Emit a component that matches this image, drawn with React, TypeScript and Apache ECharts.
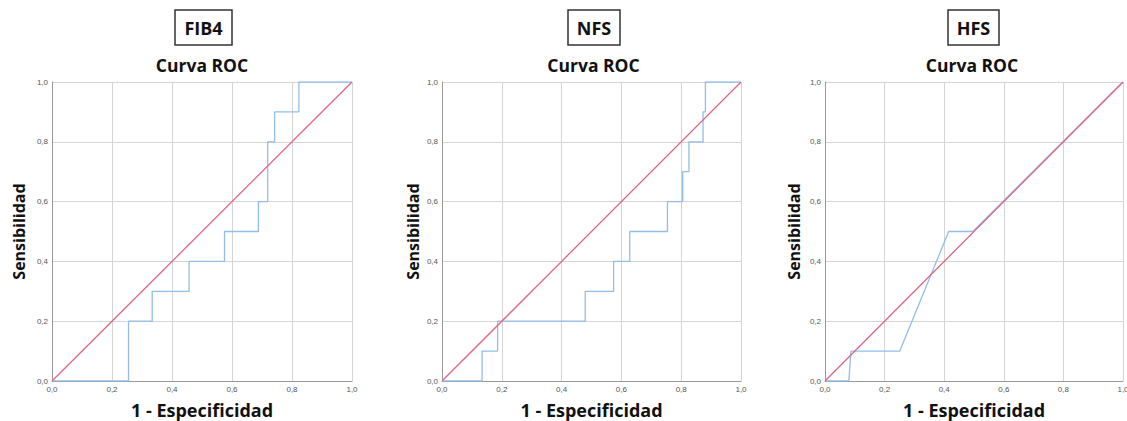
import React, { useEffect, useRef } from "react";
import * as echarts from "echarts";

// Panel names
const panelNames = ["FIB4", "NFS", "HFS"];
const chartTitle = "Curva ROC";
const xAxisName = "1 - Especificidad";
const yAxisName = "Sensibilidad";

// ROC curve vertices (1 - especificidad, sensibilidad)
const fib4Fpr = [0, 0.255, 0.255, 0.334, 0.334, 0.457, 0.457, 0.575, 0.575, 0.688, 0.688, 0.719, 0.719, 0.742, 0.742, 0.823, 0.823, 1];
const fib4Tpr = [0, 0, 0.2, 0.2, 0.3, 0.3, 0.4, 0.4, 0.5, 0.5, 0.6, 0.6, 0.8, 0.8, 0.9, 0.9, 1, 1];

const nfsFpr = [0, 0.134, 0.134, 0.186, 0.186, 0.479, 0.479, 0.574, 0.574, 0.628, 0.628, 0.754, 0.754, 0.805, 0.805, 0.826, 0.826, 0.873, 0.873, 0.881, 0.881, 1];
const nfsTpr = [0, 0, 0.1, 0.1, 0.2, 0.2, 0.3, 0.3, 0.4, 0.4, 0.5, 0.5, 0.6, 0.6, 0.7, 0.7, 0.8, 0.8, 0.9, 0.9, 1, 1];

const hfsFpr = [0, 0.08, 0.087, 0.251, 0.415, 0.496, 1];
const hfsTpr = [0, 0, 0.1, 0.1, 0.5, 0.5, 1];

// Reference line
const refX = [0, 1];
const refY = [0, 1];

const curves = [
  { fpr: fib4Fpr, tpr: fib4Tpr },
  { fpr: nfsFpr, tpr: nfsTpr },
  { fpr: hfsFpr, tpr: hfsTpr },
];

// layout (pixels)
const grids = [
  { left: 52, top: 82, width: 300, height: 299, yNameGap: 25 },
  { left: 442, top: 82, width: 299, height: 299, yNameGap: 21 },
  { left: 825, top: 82, width: 298, height: 299, yNameGap: 23 },
];
const boxes = [
  { x: 175, y: 10, w: 57, h: 35 },
  { x: 568, y: 10, w: 52, h: 35 },
  { x: 948, y: 10, w: 51, h: 35 },
];
const titleCenters = [202, 593.5, 972];

const FONT = "'Open Sans', 'Noto Sans', sans-serif";

export default function App() {
  const ref = useRef<HTMLDivElement>(null);

  useEffect(() => {
    if (!ref.current) return;
    const chart = echarts.init(ref.current, undefined, { renderer: "svg" });

    const fmt = (v: number) => v.toFixed(1).replace(".", ",");

    const xAxis = grids.map((g, i) => ({
      type: "value",
      gridIndex: i,
      min: 0,
      max: 1,
      interval: 0.2,
      name: xAxisName,
      nameLocation: "middle",
      nameGap: 19,
      nameTextStyle: { fontFamily: FONT, fontWeight: "bold", fontSize: 18, color: "#111", lineHeight: 20 },
      axisLine: { show: true, lineStyle: { color: "#999", width: 1 } },
      axisTick: { show: false },
      axisLabel: { formatter: fmt, fontSize: 8, color: "#555", margin: 4, fontFamily: "'Liberation Sans', Arial, sans-serif" },
      splitLine: { show: true, lineStyle: { color: "#d4d4d4", width: 1 } },
    }));

    const yAxis = grids.map((g, i) => ({
      type: "value",
      gridIndex: i,
      min: 0,
      max: 1,
      interval: 0.2,
      name: yAxisName,
      nameLocation: "middle",
      nameGap: g.yNameGap,
      nameTextStyle: { fontFamily: FONT, fontWeight: "bold", fontSize: 16, color: "#111" },
      axisLine: { show: true, lineStyle: { color: "#999", width: 1 } },
      axisTick: { show: false },
      axisLabel: { formatter: fmt, fontSize: 8, color: "#555", margin: 4, fontFamily: "'Liberation Sans', Arial, sans-serif" },
      splitLine: { show: true, lineStyle: { color: "#d4d4d4", width: 1 } },
    }));

    const series: any[] = [];
    curves.forEach((c, i) => {
      series.push({
        type: "line",
        xAxisIndex: i,
        yAxisIndex: i,
        data: c.fpr.map((x, k) => [x, c.tpr[k]]),
        showSymbol: false,
        symbol: "none",
        lineStyle: { color: "#93bdea", width: 1.3 },
        z: 2,
      });
      series.push({
        type: "line",
        xAxisIndex: i,
        yAxisIndex: i,
        data: refX.map((x, k) => [x, refY[k]]),
        showSymbol: false,
        symbol: "none",
        lineStyle: { color: "#e0657f", width: 1.3 },
        z: 3,
      });
    });

    const graphic: any[] = [];
    boxes.forEach((b, i) => {
      graphic.push({
        type: "rect",
        shape: { x: b.x, y: b.y, width: b.w, height: b.h },
        style: { fill: "#fff", stroke: "#333", lineWidth: 1.5 },
      });
      graphic.push({
        type: "text",
        x: b.x + b.w / 2,
        y: b.y + b.h / 2,
        style: {
          text: panelNames[i],
          font: `bold 18px ${FONT}`,
          fill: "#111",
          align: "center",
          verticalAlign: "middle",
          textAlign: "center",
          textVerticalAlign: "middle",
        },
      });
      graphic.push({
        type: "text",
        x: titleCenters[i],
        y: 65,
        style: {
          text: chartTitle,
          font: `bold 17.5px ${FONT}`,
          fill: "#111",
          align: "center",
          verticalAlign: "middle",
          textAlign: "center",
          textVerticalAlign: "middle",
        },
      });
    });

    chart.setOption({
      animation: false,
      backgroundColor: "#fff",
      grid: grids.map((g) => ({
        left: g.left,
        top: g.top,
        width: g.width,
        height: g.height,
        containLabel: false,
        outerBoundsMode: "none",
      })),
      xAxis,
      yAxis,
      series,
      graphic,
    });

    return () => chart.dispose();
  }, []);

  return (
    <div
      ref={ref}
      style={{ position: "absolute", left: 0, top: 0, width: 1127, height: 421, background: "#fff" }}
    />
  );
}
